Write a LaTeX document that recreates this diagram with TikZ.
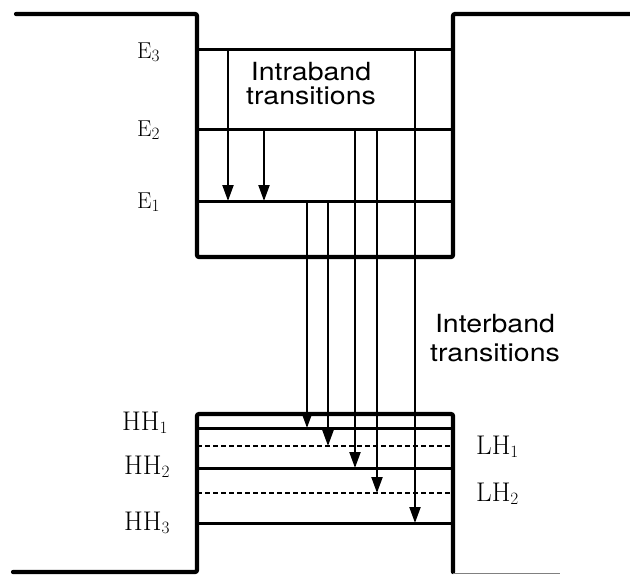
\documentclass[tikz,border=0pt]{standalone}
\usepackage{fontspec}
\newfontfamily\helv[FakeStretch=1.14]{TeX Gyre Heros}
\usetikzlibrary{arrows.meta}

\begin{document}
\begin{tikzpicture}[
  x=1pt, y=-1pt,
  every node/.style={inner sep=0pt},
  well/.style={line width=4.2pt, rounded corners=2pt, line cap=round},
  lvl/.style={line width=3pt},
  sublvl/.style={line width=2pt, dash pattern=on 5pt off 3pt},
  ar/.style={-{Triangle[length=16pt,width=11pt]}, line width=2.1pt},
  elbl/.style={font=\fontsize{23}{25}\selectfont, anchor=base west},
  hlbl/.style={font=\fontsize{27}{29}\selectfont, anchor=base west},
  txt/.style={font=\helv\fontsize{25}{24}\selectfont, align=center},
]
\useasboundingbox (0,0) rectangle (630,574);

% --- conduction band well ---
\draw[well] (16,14) -- (197,14) -- (197,257) -- (453,257) -- (453,14) -- (630,14);

\coordinate (e3) at (197,49);
\coordinate (e2) at (197,129);
\coordinate (e1) at (197,201);
\foreach \l in {e3,e2,e1}
  \draw[lvl] (\l) -- (453,0 |- \l);

\node[elbl] (le3) at (137,58) {E$_3$};
\node[elbl] (le2) at (137,136) {E$_2$};
\node[elbl] (le1) at (137,208) {E$_1$};

% --- valence band well ---
\draw[well] (13,572) -- (197,572) -- (197,414) -- (453,414) -- (453,572);
\draw[gray, line width=1pt] (453,573) -- (560,573);

\coordinate (hh1) at (197,428);
\coordinate (hh2) at (197,468);
\coordinate (hh3) at (197,523);
\coordinate (lh1) at (197,446);
\coordinate (lh2) at (197,493);
\foreach \l in {hh1,hh2,hh3}
  \draw[lvl] (\l) -- (453,0 |- \l);
\foreach \l in {lh1,lh2}
  \draw[sublvl] (\l) -- (453,0 |- \l);

\node[hlbl] (lhh1) at (122,430) {HH$_1$};
\node[hlbl] (lhh2) at (124,474) {HH$_2$};
\node[hlbl] (lhh3) at (124,530) {HH$_3$};
\node[hlbl] (llh1) at (476,454) {LH$_1$};
\node[hlbl] (llh2) at (476,501) {LH$_2$};

% --- transitions ---
\foreach \x/\a/\b in {228/e3/e1, 264/e2/e1, 307/e1/hh1, 328/e1/lh1,
                      355/e2/hh2, 377/e2/lh2, 415/e3/hh3}
  \draw[ar] (\x,0 |- \a) -- (\x,0 |- \b);

\node[txt] (intra) at (311,84) {Intraband\\transitions};
\node[txt, font=\helv\fontsize{25}{29}\selectfont] (inter) at (495,338) {Interband\\transitions};

\end{tikzpicture}
\end{document}
